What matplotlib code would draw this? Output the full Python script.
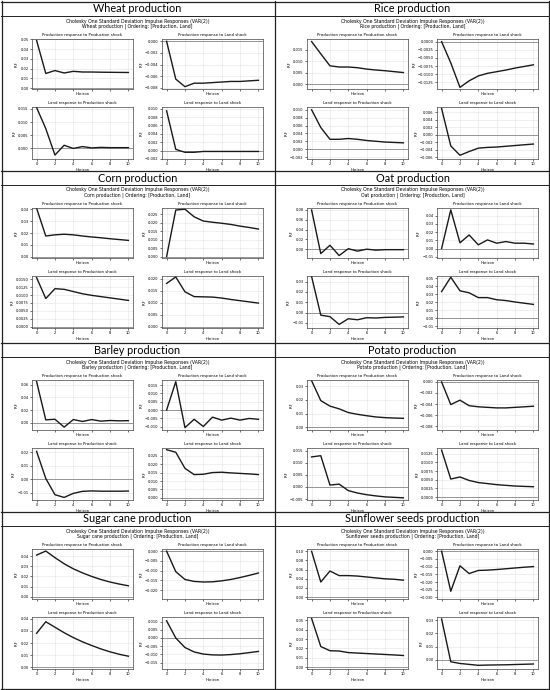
import matplotlib
matplotlib.use("Agg")
import matplotlib.pyplot as plt
from matplotlib.lines import Line2D
from matplotlib.ticker import MaxNLocator

# horizon 0..10
horizon = list(range(11))

crops = ["Wheat", "Rice", "Corn", "Oat", "Barley", "Potato", "Sugar cane", "Sunflower seeds"]

shock_titles = ["Production response to Production shock",
                "Production response to Land shock",
                "Land response to Production shock",
                "Land response to Land shock"]

# production->production, production->land, land->production, land->land
wheat_pp = [0.049, 0.015, 0.018, 0.0155, 0.0172, 0.0165, 0.0165, 0.0163, 0.0162, 0.0161, 0.016]
wheat_pl = [0.0, -0.0065, -0.0078, -0.0072, -0.0072, -0.0071, -0.0070, -0.0069, -0.0069, -0.0068, -0.0067]
wheat_lp = [0.0155, 0.0075, -0.0025, 0.0012, 0.0, 0.0007, 0.0002, 0.0004, 0.0003, 0.0003, 0.0003]
wheat_ll = [0.0095, 0.0003, -0.0004, -0.0004, -0.0002, -0.0002, -0.0002, -0.0002, -0.0002, -0.0002, -0.0002]

rice_pp = [0.0185, 0.0132, 0.008, 0.0075, 0.0075, 0.0072, 0.0066, 0.0062, 0.0059, 0.0055, 0.0051]
rice_pl = [0.0, -0.0065, -0.0140, -0.0120, -0.0105, -0.0097, -0.0092, -0.0087, -0.0081, -0.0076, -0.0071]
rice_lp = [0.010, 0.0055, 0.0025, 0.0025, 0.0027, 0.0025, 0.0022, 0.0020, 0.0018, 0.0017, 0.0016]
rice_ll = [0.007, -0.003, -0.0055, -0.0045, -0.0036, -0.0034, -0.0033, -0.0031, -0.0029, -0.0027, -0.0025]

corn_pp = [0.041, 0.0175, 0.0185, 0.019, 0.0185, 0.0175, 0.0167, 0.016, 0.0152, 0.0145, 0.0138]
corn_pl = [0.0, 0.0275, 0.028, 0.0235, 0.021, 0.0203, 0.0197, 0.019, 0.018, 0.0172, 0.0163]
corn_lp = [0.0155, 0.0089, 0.0120, 0.0118, 0.0111, 0.0104, 0.0099, 0.0095, 0.0091, 0.0087, 0.0083]
corn_ll = [0.018, 0.0207, 0.0145, 0.0125, 0.0124, 0.0123, 0.0119, 0.0113, 0.0108, 0.0103, 0.0098]

oat_pp = [0.080, -0.009, 0.008, -0.013, 0.001, -0.004, 0.0, -0.002, -0.001, -0.001, -0.001]
oat_pl = [0.0, 0.047, 0.007, 0.0165, 0.0045, 0.0105, 0.0065, 0.0085, 0.0065, 0.0065, 0.0055]
oat_lp = [0.035, -0.0025, -0.004, -0.0115, -0.006, -0.007, -0.005, -0.0053, -0.0047, -0.0045, -0.0042]
oat_ll = [0.033, 0.051, 0.034, 0.0315, 0.0255, 0.0255, 0.0228, 0.0218, 0.0200, 0.0185, 0.0170]

barley_pp = [0.065, 0.0045, 0.0055, -0.007, 0.005, 0.002, 0.005, 0.0025, 0.0035, 0.003, 0.0032]
barley_pl = [0.0, 0.017, -0.0105, -0.0055, -0.0098, -0.0042, -0.006, -0.0048, -0.006, -0.005, -0.0055]
barley_lp = [0.0205, 0.0005, -0.0115, -0.0135, -0.0105, -0.0090, -0.0087, -0.0089, -0.0089, -0.0089, -0.0088]
barley_ll = [0.0285, 0.027, 0.0175, 0.0138, 0.0140, 0.0150, 0.0152, 0.0148, 0.0145, 0.0142, 0.0138]

potato_pp = [0.034, 0.0195, 0.0155, 0.0135, 0.0108, 0.0095, 0.0085, 0.0076, 0.0071, 0.0068, 0.0066]
potato_pl = [0.0, -0.0041, -0.0033, -0.0043, -0.0045, -0.0046, -0.0047, -0.0047, -0.0046, -0.0045, -0.0044]
potato_lp = [0.0125, 0.013, 0.0008, 0.0012, -0.0015, -0.0025, -0.0032, -0.0037, -0.0041, -0.0043, -0.0045]
potato_ll = [0.0135, 0.0052, 0.0058, 0.0048, 0.0042, 0.0039, 0.0036, 0.0034, 0.0032, 0.0031, 0.0030]

sugar_pp = [0.041, 0.045, 0.0385, 0.0325, 0.0275, 0.0235, 0.020, 0.017, 0.0145, 0.0125, 0.0108]
sugar_pl = [0.0, -0.0105, -0.0145, -0.0155, -0.0158, -0.0157, -0.0152, -0.0145, -0.0135, -0.0124, -0.0112]
sugar_lp = [0.028, 0.0375, 0.033, 0.0285, 0.0245, 0.021, 0.018, 0.0152, 0.0128, 0.0108, 0.0092]
sugar_ll = [0.0105, 0.0, -0.0058, -0.0085, -0.0098, -0.0103, -0.0104, -0.0101, -0.0096, -0.0089, -0.0082]

sunflower_pp = [0.100, 0.033, 0.057, 0.047, 0.047, 0.046, 0.044, 0.042, 0.040, 0.039, 0.037]
sunflower_pl = [0.0, -0.026, -0.0095, -0.0145, -0.0125, -0.0123, -0.0119, -0.0114, -0.0109, -0.0104, -0.0100]
sunflower_lp = [0.052, 0.022, 0.0175, 0.0172, 0.0155, 0.015, 0.0145, 0.014, 0.0135, 0.013, 0.0124]
sunflower_ll = [0.031, -0.0015, -0.0028, -0.0035, -0.0042, -0.004, -0.0039, -0.0038, -0.0036, -0.0034, -0.0032]

irfs = {
    "Wheat": [wheat_pp, wheat_pl, wheat_lp, wheat_ll],
    "Rice": [rice_pp, rice_pl, rice_lp, rice_ll],
    "Corn": [corn_pp, corn_pl, corn_lp, corn_ll],
    "Oat": [oat_pp, oat_pl, oat_lp, oat_ll],
    "Barley": [barley_pp, barley_pl, barley_lp, barley_ll],
    "Potato": [potato_pp, potato_pl, potato_lp, potato_ll],
    "Sugar cane": [sugar_pp, sugar_pl, sugar_lp, sugar_ll],
    "Sunflower seeds": [sunflower_pp, sunflower_pl, sunflower_lp, sunflower_ll],
}

# y ranges as shown in the picture (same panel order)
yranges = {
    "Wheat": [(-0.001, 0.0505), (-0.0082, 0.0004), (-0.004, 0.0157), (-0.002, 0.0104)],
    "Rice": [(-0.002, 0.0196), (-0.0145, 0.0008), (-0.0025, 0.0107), (-0.0065, 0.0074)],
    "Corn": [(-0.0011, 0.0412), (-0.0008, 0.0287), (-0.0004, 0.016), (-0.0006, 0.0211)],
    "Oat": [(-0.018, 0.084), (-0.0115, 0.0493), (-0.015, 0.0355), (-0.0125, 0.0525)],
    "Barley": [(-0.0115, 0.0675), (-0.0119, 0.018), (-0.0154, 0.023), (-0.0012, 0.0295)],
    "Potato": [(-0.0019, 0.0345), (-0.0087, 0.00035), (-0.0054, 0.0162), (-0.0008, 0.0141)],
    "Sugar cane": [(-0.0022, 0.047), (-0.0245, 0.0011), (-0.0013, 0.0414), (-0.0189, 0.0128)],
    "Sunflower seeds": [(-0.004, 0.105), (-0.031, 0.0014), (-0.002, 0.0535), (-0.007, 0.0325)],
}

W, H = 550, 690
fig = plt.figure(figsize=(5.5, 6.9), dpi=100)
fig.patch.set_facecolor("white")

def rect(x0, y0, x1, y1):
    # pixel box (top-left origin) -> figure fraction
    return [x0 / W, 1 - y1 / H, (x1 - x0) / W, (y1 - y0) / H]

def hline(y, x0, x1, lw=0.9):
    fig.add_artist(Line2D([x0 / W, x1 / W], [1 - y / H, 1 - y / H], color="#222222", lw=lw))

def vline(x, y0, y1, lw=0.9):
    fig.add_artist(Line2D([x / W, x / W], [1 - y0 / H, 1 - y1 / H], color="#222222", lw=lw))

row_tops = [1.5, 171, 343, 512]
header_lines = [16, 185, 357, 526]
bottom = 689

# table borders
for yt in row_tops:
    hline(yt, 1, 549)
for yh in header_lines:
    hline(yh, 1, 549, lw=0.7)
hline(bottom, 1, 549)
vline(1.5, 1, bottom)
vline(548.5, 1, bottom)
vline(275, 1, bottom)

small = 2.6

for i, crop in enumerate(crops):
    col, row = i % 2, i // 2
    X = col * 275
    Hl = header_lines[row]
    fig.text((X + 137.5) / W, 1 - (Hl - 7) / H, f"{crop} production",
             ha="center", va="center", fontsize=7.8, family="Lato")
    fig.text((X + 137.5) / W, 1 - (Hl + 5) / H,
             "Cholesky One Standard Deviation Impulse Responses (VAR(2))",
             ha="center", va="center", fontsize=3.3)
    fig.text((X + 137.5) / W, 1 - (Hl + 10.5) / H,
             f"{crop} production | Ordering: [Production, Land]",
             ha="center", va="center", fontsize=3.3)

    boxes = [(X + 32, Hl + 23, X + 133, Hl + 73), (X + 162, Hl + 23, X + 263, Hl + 73),
             (X + 32, Hl + 91, X + 133, Hl + 143), (X + 162, Hl + 91, X + 263, Hl + 143)]
    for k, b in enumerate(boxes):
        ax = fig.add_axes(rect(*b))
        vals = irfs[crop][k]
        ax.axhline(0, color="#888888", lw=0.6, zorder=1)
        ax.plot(horizon, vals, color="#1a1a1a", lw=1.0, zorder=2)
        ax.set_ylim(*yranges[crop][k])
        ax.set_xlim(-0.5, 10.5)
        ax.set_xticks(range(0, 11, 2))
        ax.yaxis.set_major_locator(MaxNLocator(nbins=7, steps=[1, 2, 2.5, 5, 10]))
        ax.grid(True, color="#e3e3e3", lw=0.4)
        ax.set_axisbelow(True)
        ax.tick_params(labelsize=small, length=1.5, width=0.4, pad=1)
        if k < 2:
            ax.tick_params(labelbottom=False)
        for s in ax.spines.values():
            s.set_linewidth(0.5)
            s.set_color("#444444")
        ax.set_title(shock_titles[k], fontsize=2.8, pad=2)
        ax.set_xlabel("Horizon", fontsize=small, labelpad=1)
        ax.set_ylabel("IRF", fontsize=small, labelpad=1)

fig.savefig("out.png", dpi=100, facecolor="white")
